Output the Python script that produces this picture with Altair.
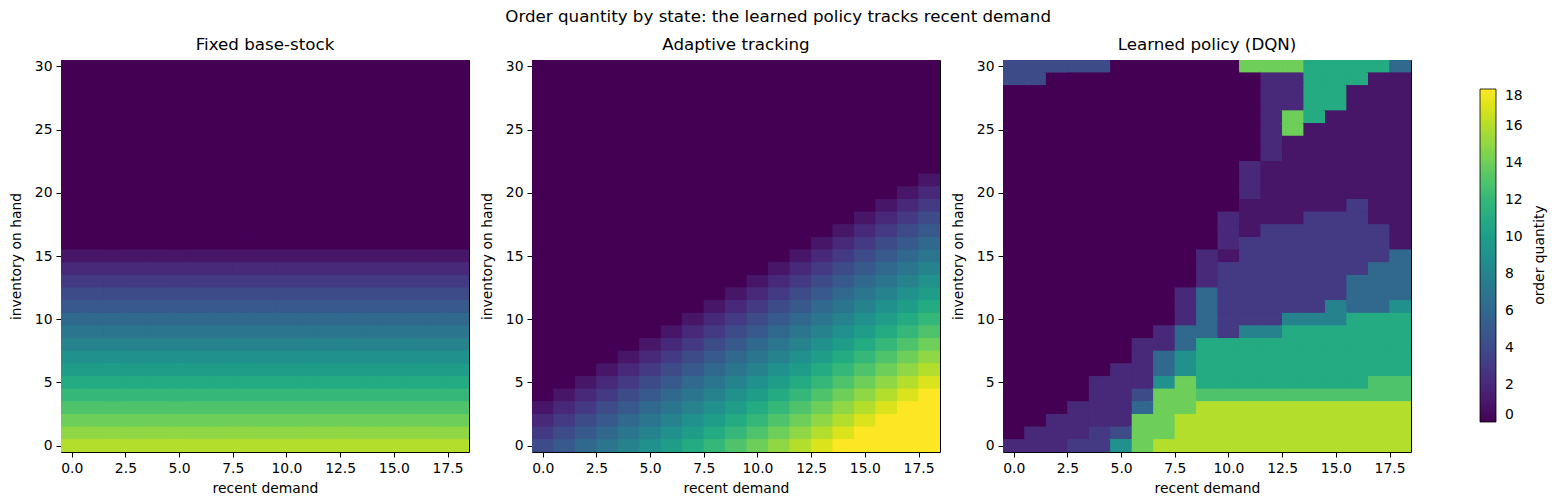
import altair as alt
import pandas as pd

# ---------------- data ----------------
demand_levels = list(range(0, 19))          # recent demand 0..18 (columns)
inventory_top_down = list(range(30, -1, -1))  # inventory on hand 30..0 (rows, top to bottom)

panel_titles = ["Fixed base-stock", "Adaptive tracking", "Learned policy (DQN)"]

# Fixed base-stock: each inventory row is uniform across demand (index = inventory 0..30)
fixed_order_by_inventory = [16, 15, 14, 13, 12, 11, 10, 9, 8, 7, 6, 5, 4, 3, 2, 1,
                            0, 0, 0, 0, 0, 0, 0, 0, 0, 0, 0, 0, 0, 0, 0]

# Adaptive tracking: rows from inventory 30 (top) to 0 (bottom), columns demand 0..18
adaptive_rows = [
    [0, 0, 0, 0, 0, 0, 0, 0, 0, 0, 0, 0, 0, 0, 0, 0, 0, 0, 0],  # 30
    [0, 0, 0, 0, 0, 0, 0, 0, 0, 0, 0, 0, 0, 0, 0, 0, 0, 0, 0],  # 29
    [0, 0, 0, 0, 0, 0, 0, 0, 0, 0, 0, 0, 0, 0, 0, 0, 0, 0, 0],  # 28
    [0, 0, 0, 0, 0, 0, 0, 0, 0, 0, 0, 0, 0, 0, 0, 0, 0, 0, 0],  # 27
    [0, 0, 0, 0, 0, 0, 0, 0, 0, 0, 0, 0, 0, 0, 0, 0, 0, 0, 0],  # 26
    [0, 0, 0, 0, 0, 0, 0, 0, 0, 0, 0, 0, 0, 0, 0, 0, 0, 0, 0],  # 25
    [0, 0, 0, 0, 0, 0, 0, 0, 0, 0, 0, 0, 0, 0, 0, 0, 0, 0, 0],  # 24
    [0, 0, 0, 0, 0, 0, 0, 0, 0, 0, 0, 0, 0, 0, 0, 0, 0, 0, 0],  # 23
    [0, 0, 0, 0, 0, 0, 0, 0, 0, 0, 0, 0, 0, 0, 0, 0, 0, 0, 0],  # 22
    [0, 0, 0, 0, 0, 0, 0, 0, 0, 0, 0, 0, 0, 0, 0, 0, 0, 0, 1],  # 21
    [0, 0, 0, 0, 0, 0, 0, 0, 0, 0, 0, 0, 0, 0, 0, 0, 0, 1, 2],  # 20
    [0, 0, 0, 0, 0, 0, 0, 0, 0, 0, 0, 0, 0, 0, 0, 0, 1, 2, 3],  # 19
    [0, 0, 0, 0, 0, 0, 0, 0, 0, 0, 0, 0, 0, 0, 0, 1, 2, 3, 4],  # 18
    [0, 0, 0, 0, 0, 0, 0, 0, 0, 0, 0, 0, 0, 0, 1, 2, 3, 4, 5],  # 17
    [0, 0, 0, 0, 0, 0, 0, 0, 0, 0, 0, 0, 0, 1, 2, 3, 4, 5, 6],  # 16
    [0, 0, 0, 0, 0, 0, 0, 0, 0, 0, 0, 0, 1, 2, 3, 4, 5, 6, 7],  # 15
    [0, 0, 0, 0, 0, 0, 0, 0, 0, 0, 0, 1, 2, 3, 4, 5, 6, 7, 8],  # 14
    [0, 0, 0, 0, 0, 0, 0, 0, 0, 0, 1, 2, 3, 4, 5, 6, 7, 8, 9],  # 13
    [0, 0, 0, 0, 0, 0, 0, 0, 0, 1, 2, 3, 4, 5, 6, 7, 8, 9, 10],  # 12
    [0, 0, 0, 0, 0, 0, 0, 0, 1, 2, 3, 4, 5, 6, 7, 8, 9, 10, 11],  # 11
    [0, 0, 0, 0, 0, 0, 0, 1, 2, 3, 4, 5, 6, 7, 8, 9, 10, 11, 12],  # 10
    [0, 0, 0, 0, 0, 0, 1, 2, 3, 4, 5, 6, 7, 8, 9, 10, 11, 12, 13],  # 9
    [0, 0, 0, 0, 0, 1, 2, 3, 4, 5, 6, 7, 8, 9, 10, 11, 12, 13, 14],  # 8
    [0, 0, 0, 0, 1, 2, 3, 4, 5, 6, 7, 8, 9, 10, 11, 12, 13, 14, 15],  # 7
    [0, 0, 0, 1, 2, 3, 4, 5, 6, 7, 8, 9, 10, 11, 12, 13, 14, 15, 16],  # 6
    [0, 0, 1, 2, 3, 4, 5, 6, 7, 8, 9, 10, 11, 12, 13, 14, 15, 16, 17],  # 5
    [0, 1, 2, 3, 4, 5, 6, 7, 8, 9, 10, 11, 12, 13, 14, 15, 16, 17, 18],  # 4
    [1, 2, 3, 4, 5, 6, 7, 8, 9, 10, 11, 12, 13, 14, 15, 16, 17, 18, 18],  # 3
    [2, 3, 4, 5, 6, 7, 8, 9, 10, 11, 12, 13, 14, 15, 16, 17, 18, 18, 18],  # 2
    [3, 4, 5, 6, 7, 8, 9, 10, 11, 12, 13, 14, 15, 16, 17, 18, 18, 18, 18],  # 1
    [4, 5, 6, 7, 8, 9, 10, 11, 12, 13, 14, 15, 16, 17, 18, 18, 18, 18, 18],  # 0
]

# Learned policy (DQN): rows from inventory 30 (top) to 0 (bottom)
dqn_rows = [
    [4, 4, 4, 4, 4, 0, 0, 0, 0, 0, 0, 14, 14, 14, 11, 11, 11, 11, 6],  # 30
    [4, 4, 0, 0, 0, 0, 0, 0, 0, 0, 0, 0, 2, 2, 11, 11, 11, 1, 1],  # 29
    [0, 0, 0, 0, 0, 0, 0, 0, 0, 0, 0, 0, 2, 2, 11, 11, 1, 1, 1],  # 28
    [0, 0, 0, 0, 0, 0, 0, 0, 0, 0, 0, 0, 2, 2, 11, 11, 1, 1, 1],  # 27
    [0, 0, 0, 0, 0, 0, 0, 0, 0, 0, 0, 0, 2, 14, 11, 1, 1, 1, 1],  # 26
    [0, 0, 0, 0, 0, 0, 0, 0, 0, 0, 0, 0, 2, 14, 1, 1, 1, 1, 1],  # 25
    [0, 0, 0, 0, 0, 0, 0, 0, 0, 0, 0, 0, 2, 1, 1, 1, 1, 1, 1],  # 24
    [0, 0, 0, 0, 0, 0, 0, 0, 0, 0, 0, 0, 2, 1, 1, 1, 1, 1, 1],  # 23
    [0, 0, 0, 0, 0, 0, 0, 0, 0, 0, 0, 2, 1, 1, 1, 1, 1, 1, 1],  # 22
    [0, 0, 0, 0, 0, 0, 0, 0, 0, 0, 0, 2, 1, 1, 1, 1, 1, 1, 1],  # 21
    [0, 0, 0, 0, 0, 0, 0, 0, 0, 0, 0, 2, 1, 1, 1, 1, 1, 1, 1],  # 20
    [0, 0, 0, 0, 0, 0, 0, 0, 0, 0, 0, 1, 1, 1, 1, 1, 3, 1, 1],  # 19
    [0, 0, 0, 0, 0, 0, 0, 0, 0, 0, 2, 1, 1, 1, 3, 3, 3, 1, 1],  # 18
    [0, 0, 0, 0, 0, 0, 0, 0, 0, 0, 2, 1, 3, 3, 3, 3, 3, 3, 1],  # 17
    [0, 0, 0, 0, 0, 0, 0, 0, 0, 0, 2, 3, 3, 3, 3, 3, 3, 3, 1],  # 16
    [0, 0, 0, 0, 0, 0, 0, 0, 0, 2, 1, 3, 3, 3, 3, 3, 3, 3, 6],  # 15
    [0, 0, 0, 0, 0, 0, 0, 0, 0, 2, 3, 3, 3, 3, 3, 3, 3, 6, 6],  # 14
    [0, 0, 0, 0, 0, 0, 0, 0, 0, 2, 3, 3, 3, 3, 3, 3, 6, 6, 6],  # 13
    [0, 0, 0, 0, 0, 0, 0, 0, 2, 6, 3, 3, 3, 3, 3, 3, 6, 6, 6],  # 12
    [0, 0, 0, 0, 0, 0, 0, 0, 2, 6, 3, 3, 3, 3, 3, 8, 6, 6, 9],  # 11
    [0, 0, 0, 0, 0, 0, 0, 0, 2, 6, 3, 3, 3, 8, 8, 8, 11, 11, 11],  # 10
    [0, 0, 0, 0, 0, 0, 0, 2, 6, 6, 3, 8, 8, 11, 11, 11, 11, 11, 11],  # 9
    [0, 0, 0, 0, 0, 0, 2, 2, 6, 11, 11, 11, 11, 11, 11, 11, 11, 11, 11],  # 8
    [0, 0, 0, 0, 0, 0, 2, 6, 9, 11, 11, 11, 11, 11, 11, 11, 11, 11, 11],  # 7
    [0, 0, 0, 0, 0, 2, 2, 6, 9, 11, 11, 11, 11, 11, 11, 11, 11, 11, 11],  # 6
    [0, 0, 0, 0, 2, 2, 2, 9, 14, 11, 11, 11, 11, 11, 11, 11, 11, 13, 13],  # 5
    [0, 0, 0, 0, 2, 2, 4, 14, 14, 13, 13, 13, 13, 13, 13, 13, 13, 13, 13],  # 4
    [0, 0, 0, 2, 2, 2, 6, 14, 14, 16, 16, 16, 16, 16, 16, 16, 16, 16, 16],  # 3
    [0, 0, 2, 2, 2, 2, 14, 14, 16, 16, 16, 16, 16, 16, 16, 16, 16, 16, 16],  # 2
    [0, 2, 2, 2, 3, 4, 14, 14, 16, 16, 16, 16, 16, 16, 16, 16, 16, 16, 16],  # 1
    [2, 2, 2, 3, 3, 9, 14, 16, 16, 16, 16, 16, 16, 16, 16, 16, 16, 16, 16],  # 0
]

x_tick_values = [0, 2.5, 5, 7.5, 10, 12.5, 15, 17.5]
y_tick_values = [0, 5, 10, 15, 20, 25, 30]
colorbar_ticks = [0, 2, 4, 6, 8, 10, 12, 14, 16, 18]
colorbar_label = ["order quantity"]

suptitle = "Order quantity by state: the learned policy tracks recent demand"

# ---------------- build tables ----------------
def table_from_rows(rows):
    recs = []
    for inv, row in zip(inventory_top_down, rows):
        for d, q in zip(demand_levels, row):
            recs.append({"d": d, "inv": inv, "q": q})
    return pd.DataFrame(recs)

fixed_rows = [[fixed_order_by_inventory[inv]] * len(demand_levels) for inv in inventory_top_down]
tables = [table_from_rows(fixed_rows), table_from_rows(adaptive_rows), table_from_rows(dqn_rows)]

FONT = "DejaVu Sans"
FS = 13.9
TFS = 16.7

color_scale = alt.Scale(scheme="viridis", domain=[0, 18])

legend = alt.Legend(
    title=None,
    orient="none",
    legendX=1419,
    legendY=29,
    direction="vertical",
    gradientLength=333,
    gradientThickness=16,
    values=colorbar_ticks,
    labelFontSize=FS,
    labelFont=FONT,
    labelColor="black",
    labelOffset=9,
    labelBaseline="middle",
    gradientStrokeColor="black",
    gradientStrokeWidth=0.8,
    labelOverlap=False,
)

axis_common = dict(tickSize=5, labelFlush=False, labelOverlap=False,
                   grid=False, domain=False, labelFont=FONT, titleFont=FONT,
                   labelFontSize=FS, titleFontSize=FS, titleFontWeight="normal",
                   labelColor="black", titleColor="black", tickColor="black", tickWidth=1)

x_enc = alt.X("x0:Q",
              scale=alt.Scale(domain=[-0.5, 18.5], nice=False, zero=False),
              axis=alt.Axis(values=x_tick_values, format=".1f", title="recent demand",
                            labelPadding=4, titlePadding=7, **axis_common))
y_enc = alt.Y("y0:Q",
              scale=alt.Scale(domain=[-0.5, 30.5], nice=False, zero=False),
              axis=alt.Axis(values=y_tick_values, format="d", title="inventory on hand",
                            labelPadding=4, titlePadding=11, **axis_common))


def cells(df, half):
    # base layer slightly enlarged (hides anti-aliasing seams), top layer exact cells
    return (
        alt.Chart(df)
        .transform_calculate(x0=f"datum.d - {half}", x1=f"datum.d + {half}",
                             y0=f"datum.inv - {half}", y1=f"datum.inv + {half}")
        .mark_rect(clip=True)
        .encode(x=x_enc, x2="x1:Q", y=y_enc, y2="y1:Q",
                color=alt.Color("q:Q", scale=color_scale, legend=legend))
    )


def panel(df, title, with_cbar_label):
    layers = [cells(df, 0.6), cells(df, 0.5)]
    if with_cbar_label:
        lab = (
            alt.Chart(pd.DataFrame({"t": colorbar_label}))
            .mark_text(angle=270, font=FONT, fontSize=FS, color="black",
                       align="center", baseline="middle", clip=False)
            .encode(x=alt.value(537), y=alt.value(195), text="t:N")
        )
        layers.append(lab)
    return alt.layer(*layers).properties(
        width=408, height=392,
        title=alt.TitleParams(title, fontSize=TFS, font=FONT, fontWeight="normal",
                              color="black", offset=6))


charts = [panel(tables[i], panel_titles[i], i == 2) for i in range(3)]

chart = (
    alt.hconcat(*charts, spacing=9)
    .resolve_scale(color="shared")
    .properties(
        title=alt.TitleParams(suptitle, fontSize=TFS, font=FONT, fontWeight="normal",
                              color="black", anchor="middle", offset=9, dy=-1),
        padding={"left": 0, "top": 1, "right": 0, "bottom": 0},
        background="white",
    )
    .configure_view(stroke="black", strokeWidth=1)
)

chart.save("out.html", embed_options={"renderer": "svg", "actions": False})
